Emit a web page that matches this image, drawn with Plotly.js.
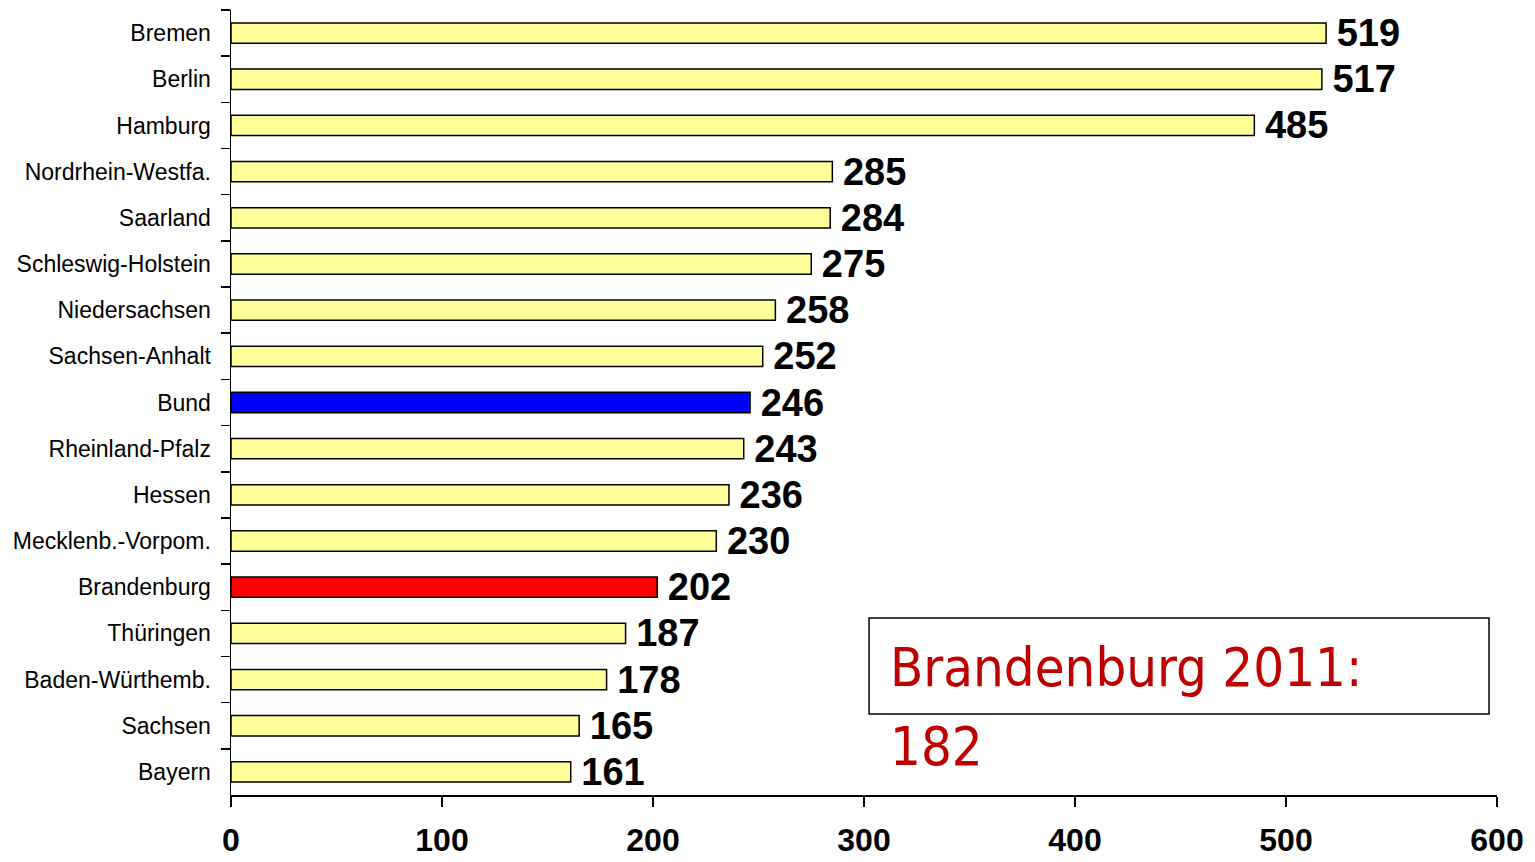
<!DOCTYPE html>
<html><head><meta charset="utf-8">
<script src="https://cdn.plot.ly/plotly-3.0.1.min.js"></script>
<style>body{margin:0;background:#fff}#chart{width:1535px;height:862px}</style>
</head><body><div id="chart"></div>
<script>
const categories = ["Bremen","Berlin","Hamburg","Nordrhein-Westfa.","Saarland","Schleswig-Holstein","Niedersachsen","Sachsen-Anhalt","Bund","Rheinland-Pfalz","Hessen","Mecklenb.-Vorpom.","Brandenburg","Thüringen","Baden-Würthemb.","Sachsen","Bayern"];
const values = [519,517,485,285,284,275,258,252,246,243,236,230,202,187,178,165,161];
const xTicks = [0,100,200,300,400,500,600];
const noteLines = ["Brandenburg 2011:", "182"];

const colors = categories.map(c => c === "Bund" ? "#0000ff" : (c === "Brandenburg" ? "#ff0000" : "#ffff99"));

const trace = {
  type: "bar", orientation: "h",
  x: values, y: categories,
  marker: {color: colors, line: {color: "#000", width: 1.5}},
  width: 0.44,
  text: values.map(v => "\u2009" + v), textposition: "outside", constraintext: "none",
  cliponaxis: false,
  textfont: {family: "Liberation Sans, Arial, sans-serif", size: 38, color: "#000", weight: "bold"},
  hoverinfo: "x+y"
};

const layout = {
  width: 1535, height: 862,
  margin: {l: 231, r: 38, t: 10, b: 67},
  paper_bgcolor: "#fff", plot_bgcolor: "#fff",
  showlegend: false,
  font: {family: "Liberation Sans, Arial, sans-serif", color: "#000"},
  xaxis: {
    range: [0, 600], tickvals: xTicks, ticktext: xTicks.map(String),
    showgrid: false, zeroline: false, showline: true, linecolor: "#000", linewidth: 1.5,
    ticks: "outside", ticklen: 10, tickwidth: 1.5, tickcolor: "#000",
    tickfont: {size: 32, weight: "bold"}, ticklabelstandoff: 6, fixedrange: true
  },
  yaxis: {
    type: "category", autorange: "reversed",
    showgrid: false, zeroline: false, showline: true, linecolor: "#000", linewidth: 1.5,
    ticks: "outside", tickson: "boundaries", ticklen: 9, tickwidth: 1.5, tickcolor: "#000",
    tickfont: {size: 23}, ticklabelstandoff: 14, fixedrange: true
  },
  shapes: [{type: "rect", xref: "paper", yref: "paper", x0: 0.504, x1: 0.9937, y0: 0.1032, y1: 0.2255,
    line: {color: "#000", width: 1.5}, fillcolor: "rgba(0,0,0,0)"}],
  annotations: noteLines.map((t, i) => ({xref: "paper", yref: "paper", x: 0.519, y: [0.133, 0.034][i],
    xanchor: "left", yanchor: "bottom", yshift: [-10, -12][i],
    text: t, showarrow: false, align: "left",
    font: {family: "Liberation Sans Narrow, DejaVu Sans Condensed, sans-serif", size: 54, color: "#c00000"}}))
};

Plotly.newPlot("chart", [trace], layout, {displayModeBar: false, staticPlot: true});
</script></body></html>
